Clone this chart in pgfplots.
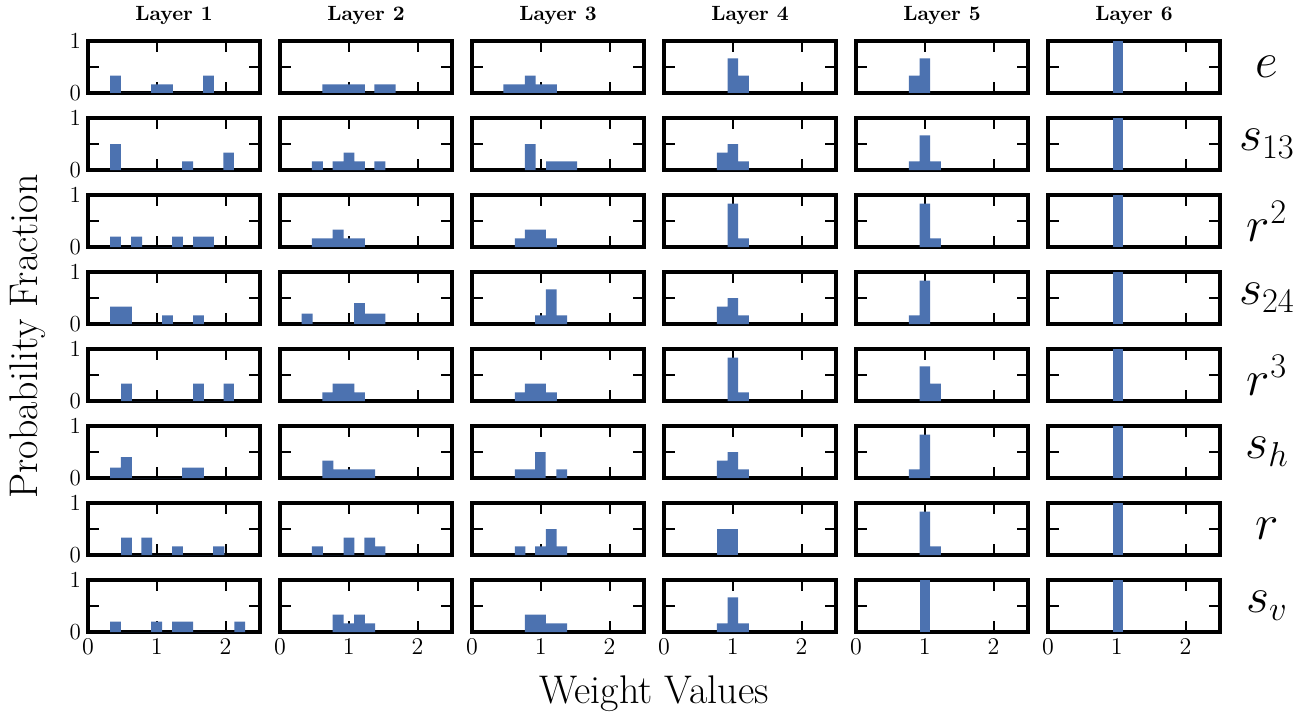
\documentclass[border=0pt]{standalone}
\usepackage{pgfplots}
\pgfplotsset{compat=1.18}
\usepgfplotslibrary{groupplots}
\usetikzlibrary{calc}
\definecolor{barblue}{RGB}{76,114,176}
\pgfplotsset{hb/.style={ybar interval, fill=barblue, draw=none}}
\begin{document}
\begin{tikzpicture}
\begin{groupplot}[
 group style={group size=6 by 8, horizontal sep=10pt, vertical sep=12.5pt,
   xticklabels at=edge bottom, yticklabels at=edge left, group name=G},
 width=86pt, height=26pt, scale only axis,
 xmin=0, xmax=2.5, ymin=0, ymax=1,
 xtick={0,1,2}, ytick={0,0.5,1}, yticklabels={0,,1},
 tick align=inside, major tick length=5.5pt,
 every tick/.style={black, line width=1pt},
 axis line style={line width=1.6pt},
 tick label style={font=\fontsize{11.5}{13}\selectfont},
 title style={font=\bfseries\fontsize{10.3}{12}\selectfont, yshift=-1.5pt},
]
% ---------- row 1 : e ----------
\nextgroupplot[title={Layer 1}]
\addplot[hb] coordinates {(0.320,0.3333)(0.476,0)(0.917,0.1667)(1.233,0)(1.675,0.3333)(1.830,0)};
\nextgroupplot[title={Layer 2}]
\addplot[hb] coordinates {(0.617,0.1667)(1.235,0)(1.373,0.1667)(1.679,0)};
\nextgroupplot[title={Layer 3}]
\addplot[hb] coordinates {(0.456,0.1667)(0.770,0.3333)(0.926,0.1667)(1.235,0)};
\nextgroupplot[title={Layer 4}]
\addplot[hb] coordinates {(0.926,0.6667)(1.078,0.3333)(1.235,0)};
\nextgroupplot[title={Layer 5}]
\addplot[hb] coordinates {(0.770,0.3333)(0.926,0.6667)(1.078,0)};
\nextgroupplot[title={Layer 6}]
\addplot[hb] coordinates {(0.94,1)(1.09,0)};
% ---------- row 2 : s13 ----------
\nextgroupplot
\addplot[hb] coordinates {(0.320,0.5)(0.476,0)(1.369,0.1667)(1.529,0)(1.966,0.3333)(2.121,0)};
\nextgroupplot
\addplot[hb] coordinates {(0.464,0.1667)(0.622,0)(0.765,0.1667)(0.923,0.3333)(1.081,0.1667)(1.235,0)(1.373,0.1667)(1.531,0)};
\nextgroupplot
\addplot[hb] coordinates {(0.770,0.5)(0.926,0)(1.078,0.1667)(1.529,0)};
\nextgroupplot
\addplot[hb] coordinates {(0.770,0.3333)(0.926,0.5)(1.078,0.1667)(1.235,0)};
\nextgroupplot
\addplot[hb] coordinates {(0.770,0.1667)(0.926,0.6667)(1.078,0.1667)(1.235,0)};
\nextgroupplot
\addplot[hb] coordinates {(0.94,1)(1.09,0)};
% ---------- row 3 : r^2 ----------
\nextgroupplot
\addplot[hb] coordinates {(0.320,0.2)(0.476,0)(0.626,0.2)(0.786,0)(1.223,0.2)(1.379,0)(1.529,0.2)(1.830,0)};
\nextgroupplot
\addplot[hb] coordinates {(0.464,0.1667)(0.765,0.3333)(0.923,0.1667)(1.235,0)};
\nextgroupplot
\addplot[hb] coordinates {(0.623,0.1667)(0.770,0.3333)(1.074,0.1667)(1.235,0)};
\nextgroupplot
\addplot[hb] coordinates {(0.926,0.8333)(1.078,0.1667)(1.235,0)};
\nextgroupplot
\addplot[hb] coordinates {(0.926,0.8333)(1.078,0.1667)(1.235,0)};
\nextgroupplot
\addplot[hb] coordinates {(0.94,1)(1.09,0)};
% ---------- row 4 : s24 ----------
\nextgroupplot
\addplot[hb] coordinates {(0.320,0.3333)(0.636,0)(1.078,0.1667)(1.233,0)(1.529,0.1667)(1.684,0)};
\nextgroupplot
\addplot[hb] coordinates {(0.316,0.2)(0.474,0)(1.077,0.4)(1.235,0.2)(1.531,0)};
\nextgroupplot
\addplot[hb] coordinates {(0.917,0.1667)(1.074,0.6667)(1.230,0.1667)(1.382,0)};
\nextgroupplot
\addplot[hb] coordinates {(0.770,0.3333)(0.926,0.5)(1.078,0.1667)(1.235,0)};
\nextgroupplot
\addplot[hb] coordinates {(0.770,0.1667)(0.926,0.8333)(1.078,0)};
\nextgroupplot
\addplot[hb] coordinates {(0.94,1)(1.09,0)};
% ---------- row 5 : r^3 ----------
\nextgroupplot
\addplot[hb] coordinates {(0.481,0.3333)(0.636,0)(1.529,0.3333)(1.684,0)(1.971,0.3333)(2.121,0)};
\nextgroupplot
\addplot[hb] coordinates {(0.617,0.1667)(0.765,0.3333)(1.081,0.1667)(1.235,0)};
\nextgroupplot
\addplot[hb] coordinates {(0.623,0.1667)(0.770,0.3333)(1.074,0.1667)(1.235,0)};
\nextgroupplot
\addplot[hb] coordinates {(0.926,0.8333)(1.078,0.1667)(1.235,0)};
\nextgroupplot
\addplot[hb] coordinates {(0.926,0.6667)(1.078,0.3333)(1.235,0)};
\nextgroupplot
\addplot[hb] coordinates {(0.94,1)(1.09,0)};
% ---------- row 6 : s_h ----------
\nextgroupplot
\addplot[hb] coordinates {(0.320,0.2)(0.476,0.4)(0.636,0)(1.369,0.2)(1.684,0)};
\nextgroupplot
\addplot[hb] coordinates {(0.617,0.3333)(0.775,0.1667)(1.383,0)};
\nextgroupplot
\addplot[hb] coordinates {(0.623,0.1667)(0.917,0.5)(1.069,0)(1.225,0.1667)(1.382,0)};
\nextgroupplot
\addplot[hb] coordinates {(0.770,0.3333)(0.926,0.5)(1.078,0.1667)(1.235,0)};
\nextgroupplot
\addplot[hb] coordinates {(0.770,0.1667)(0.926,0.8333)(1.078,0)};
\nextgroupplot
\addplot[hb] coordinates {(0.94,1)(1.09,0)};
% ---------- row 7 : r ----------
\nextgroupplot
\addplot[hb] coordinates {(0.481,0.3333)(0.636,0)(0.777,0.3333)(0.932,0)(1.223,0.1667)(1.379,0)(1.820,0.1667)(1.981,0)};
\nextgroupplot
\addplot[hb] coordinates {(0.464,0.1667)(0.622,0)(0.923,0.3333)(1.081,0)(1.225,0.3333)(1.383,0.1667)(1.531,0)};
\nextgroupplot
\addplot[hb] coordinates {(0.623,0.1667)(0.775,0)(0.917,0.1667)(1.074,0.5)(1.230,0.1667)(1.382,0)};
\nextgroupplot
\addplot[hb] coordinates {(0.770,0.5)(1.078,0)};
\nextgroupplot
\addplot[hb] coordinates {(0.926,0.8333)(1.078,0.1667)(1.235,0)};
\nextgroupplot
\addplot[hb] coordinates {(0.94,1)(1.09,0)};
% ---------- row 8 : s_v ----------
\nextgroupplot
\addplot[hb] coordinates {(0.320,0.2)(0.476,0)(0.917,0.2)(1.078,0)(1.223,0.2)(1.529,0)(2.126,0.2)(2.282,0)};
\nextgroupplot
\addplot[hb] coordinates {(0.765,0.3333)(0.923,0.1667)(1.077,0.3333)(1.235,0.1667)(1.383,0)};
\nextgroupplot
\addplot[hb] coordinates {(0.770,0.3333)(1.074,0.1667)(1.382,0)};
\nextgroupplot
\addplot[hb] coordinates {(0.770,0.1667)(0.926,0.6667)(1.078,0.1667)(1.235,0)};
\nextgroupplot
\addplot[hb] coordinates {(0.926,1)(1.078,0)};
\nextgroupplot
\addplot[hb] coordinates {(0.94,1)(1.09,0)};
\end{groupplot}
\foreach \lab [count=\i] in {e, s_{13}, r^2, s_{24}, r^3, s_h, r, s_v} {
  \node[font=\fontsize{25}{29}\selectfont] at ($(G c6r\i.east)+(23.5pt,0)$) {$\lab$};
}
\node[rotate=90, font=\fontsize{20}{24}\selectfont] at ($($(G c1r1.north west)!0.5!(G c1r8.south west)$)+(-30pt,0)$) {Probability Fraction};
\node[font=\fontsize{20}{24}\selectfont] at ($($(G c1r8.south west)!0.5!(G c6r8.south east)$)+(0,-31pt)$) {Weight Values};
\pgfresetboundingbox
\path ($(G c1r1.north west)+(-44pt,20.5pt)$) rectangle ($(G c6r8.south east)+(39.5pt,-41.5pt)$);
\end{tikzpicture}
\end{document}
